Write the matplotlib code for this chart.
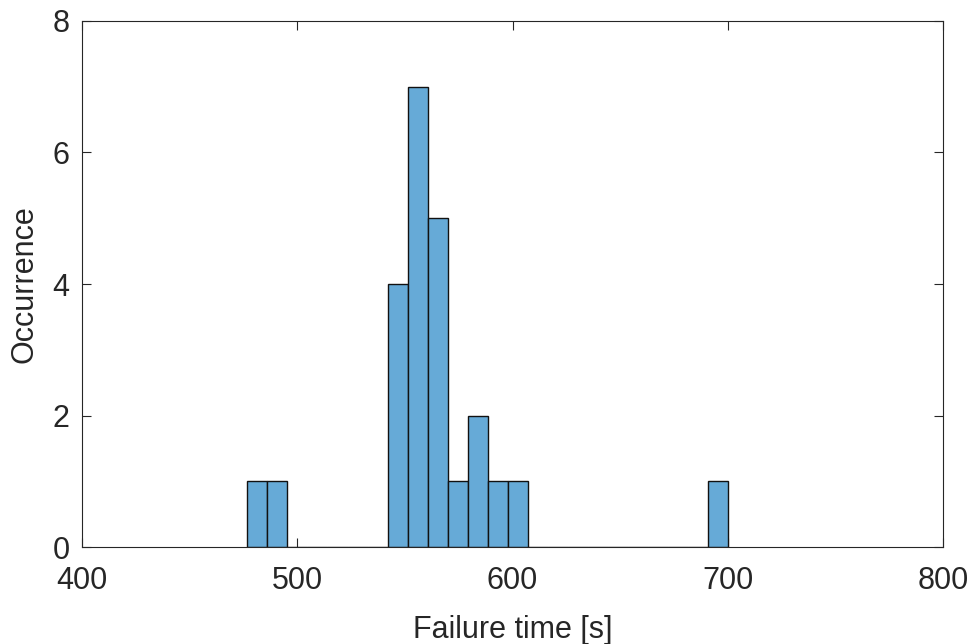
import numpy as np
import matplotlib
matplotlib.use("Agg")
import matplotlib.pyplot as plt

# Histogram of failure times: 24 equal-width bins
bin_start = 476.8
bin_width = 9.31
counts = [1, 1, 0, 0, 0, 0, 0, 4, 7, 5, 1, 2, 1, 1,
          0, 0, 0, 0, 0, 0, 0, 0, 0, 1]
x_ticks = [400, 500, 600, 700, 800]
y_ticks = [0, 2, 4, 6, 8]

plt.rcParams['font.family'] = ['Liberation Sans', 'DejaVu Sans']

fig = plt.figure(figsize=(9.73, 6.44), dpi=100)
ax = fig.add_axes([0.0843, 0.1506, 0.8849, 0.8168])

edges = bin_start + bin_width * np.arange(len(counts) + 1)
ax.bar(edges[:-1], counts, width=bin_width, align='edge',
       color='#66AAD7', edgecolor='#111111', linewidth=1.0, zorder=2)

axis_col = '#262626'
ax.set_xlim(400, 800)
ax.set_ylim(0, 8)
ax.set_xticks(x_ticks)
ax.set_yticks(y_ticks)
ax.tick_params(direction='in', length=6.5, width=0.8, colors=axis_col,
               labelsize=22, top=True, right=True)
ax.tick_params(axis='x', pad=14)
ax.tick_params(axis='y', pad=9)
for s in ax.spines.values():
    s.set_color(axis_col)
    s.set_linewidth(0.8)

ax.set_xlabel('Failure time [s]', fontsize=22, color=axis_col, labelpad=13)
ax.set_ylabel('Occurrence', fontsize=22, color=axis_col, labelpad=9)

fig.savefig('out.png', dpi=100)
